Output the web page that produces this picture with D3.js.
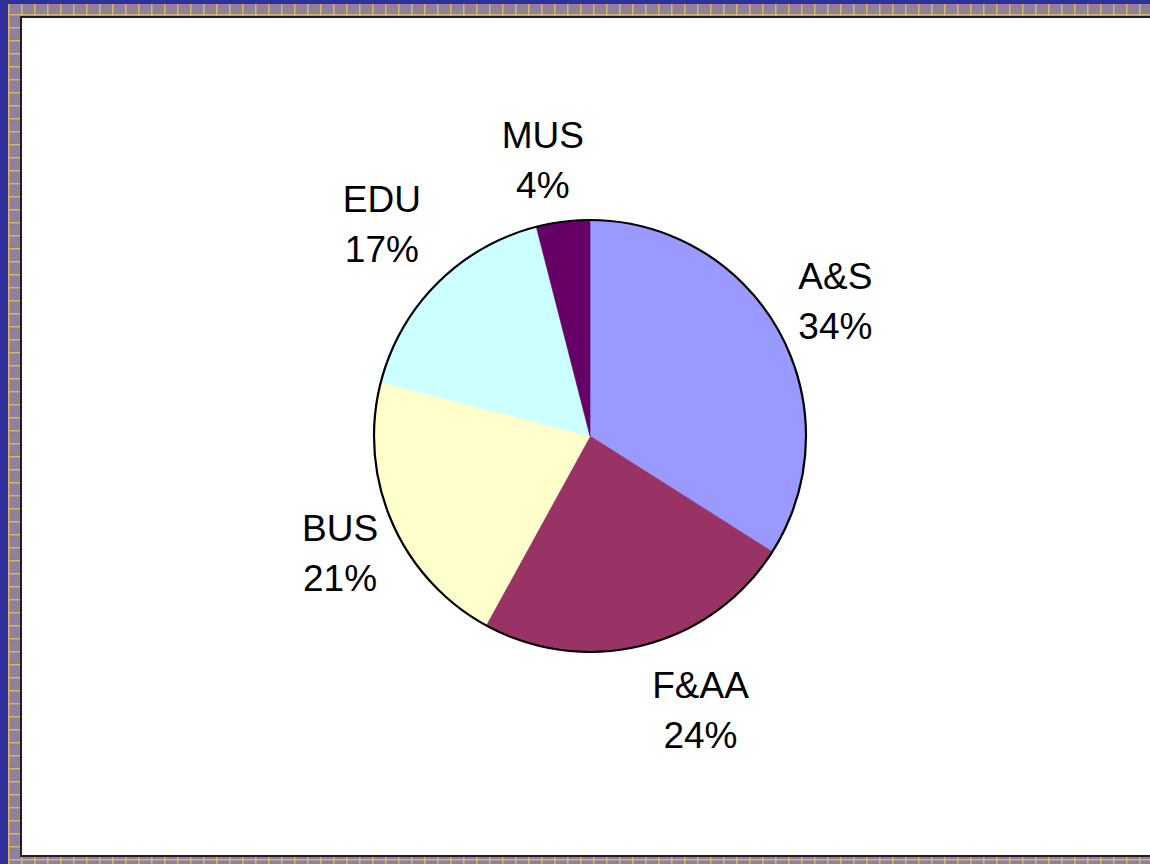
<!DOCTYPE html>
<html>
<head>
<meta charset="utf-8">
<script src="https://cdn.jsdelivr.net/npm/d3@7"></script>
<style>
  html, body { margin: 0; padding: 0; background: #30309a; }
  svg { display: block; }
</style>
</head>
<body>
<div id="placeholder"></div>
<script>
// chart data
var categories = ["A&S", "F&AA", "BUS", "EDU", "MUS"];
var shares = [34, 24, 21, 17, 4];
var sliceColors = ["#9999ff", "#993366", "#ffffcc", "#ccffff", "#660066"];

var W = 1150, H = 864;
var cx = 590, cy = 436, radius = 216, labelRadius = 280;

// small hand moves of some labels, like a dragged label in the original
var labelNudge = {
    "F&AA": { da: -7.6, dr: 15 },
    "EDU": { da: 0.5, dr: 17 },
    "MUS": { da: -2.5, dr: 0 },
    "BUS": { da: -1.7, dr: -4 }
};

var svg = d3.select("#placeholder")
    .append("svg")
    .attr("width", W)
    .attr("height", H);

// frame pattern
var defs = svg.append("defs");
var pat = defs.append("pattern")
    .attr("id", "frame")
    .attr("patternUnits", "userSpaceOnUse")
    .attr("x", 8).attr("y", 4)
    .attr("width", 13).attr("height", 13);
pat.append("rect").attr("width", 13).attr("height", 13).attr("fill", "#8d7f99");
for (var i = 0; i < 6; i++) {
    for (var j = 0; j < 6; j++) {
        if ((i + j) % 2 == 0) {
            pat.append("rect")
                .attr("x", 1 + i * 2).attr("y", j * 2)
                .attr("width", 1).attr("height", 1)
                .attr("fill", "#a08e9c");
        }
    }
}
pat.append("rect").attr("x", 0).attr("y", 0).attr("width", 1.5).attr("height", 13).attr("fill", "#d8b46c");
pat.append("rect").attr("x", 0).attr("y", 10).attr("width", 13).attr("height", 1.5).attr("fill", "#d8b46c");

svg.append("rect").attr("width", W).attr("height", H).attr("fill", "#30309a");
svg.append("rect")
    .attr("x", 8).attr("y", 4)
    .attr("width", W - 8).attr("height", H - 4)
    .attr("fill", "url(#frame)");
svg.append("rect")
    .attr("x", 20).attr("y", 16)
    .attr("width", W - 20).attr("height", 841)
    .attr("fill", "#1e1e24");
svg.append("rect")
    .attr("x", 22).attr("y", 18)
    .attr("width", W - 22).attr("height", 837)
    .attr("fill", "#ffffff");

// pie
var data = categories.map(function (c, i) { return { name: c, value: shares[i], color: sliceColors[i] }; });
var pie = d3.pie().sort(null).value(function (d) { return d.value; });
var arcs = pie(data);
var arc = d3.arc().innerRadius(0).outerRadius(radius);

var g = svg.append("g").attr("transform", "translate(" + cx + "," + cy + ")");

g.selectAll("path.slice")
    .data(arcs)
    .enter()
    .append("path")
    .attr("class", "slice")
    .attr("d", arc)
    .attr("fill", function (d) { return d.data.color; })
    .attr("stroke", function (d) { return d.data.color; })
    .attr("stroke-width", 0.6);

g.append("circle")
    .attr("r", radius)
    .attr("fill", "none")
    .attr("stroke", "#000")
    .attr("stroke-width", 2.2);

// labels
var labels = g.selectAll("text.lbl")
    .data(arcs)
    .enter()
    .append("text")
    .attr("class", "lbl")
    .attr("text-anchor", "middle")
    .attr("font-family", "'Liberation Sans', Arial, sans-serif")
    .attr("font-size", "37px")
    .attr("fill", "#000")
    .each(function (d) {
        var n = labelNudge[d.data.name] || { da: 0, dr: 0 };
        var a = (d.startAngle + d.endAngle) / 2 + n.da * Math.PI / 180;
        var r = labelRadius + n.dr;
        var x = r * Math.sin(a);
        var y = -r * Math.cos(a);
        var t = d3.select(this);
        t.append("tspan").attr("x", x).attr("y", y - 12).text(d.data.name);
        t.append("tspan").attr("x", x).attr("dy", 50).text(d.data.value + "%");
    });
</script>
</body>
</html>
